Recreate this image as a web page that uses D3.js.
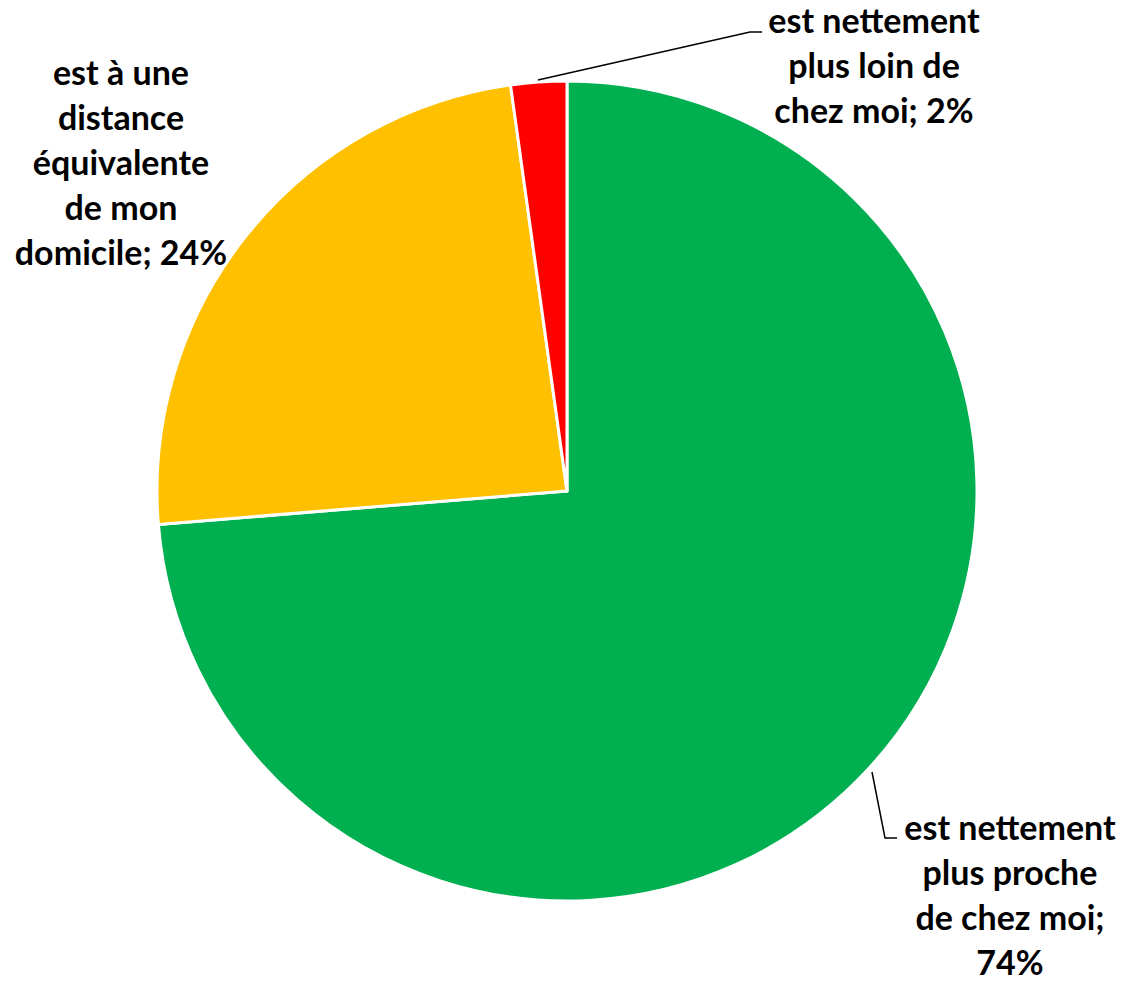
<!DOCTYPE html>
<html>
<head>
<meta charset="utf-8">
<script src="https://cdn.jsdelivr.net/npm/d3@7"></script>
<style>
  body { margin: 0; background: #fff; }
  .lbl { font-family: Lato, "Open Sans", sans-serif; font-weight: 700; font-size: 34px; fill: #000; }
</style>
</head>
<body>
<div id="chart"></div>
<script>
const categories = [
  "est nettement plus proche de chez moi",
  "est à une distance équivalente de mon domicile",
  "est nettement plus loin de chez moi"
];
const values = [73.7, 24.1, 2.2];
const percentLabels = ["74%", "24%", "2%"];
const labelLines = [
  ["est nettement", "plus proche", "de chez moi;", "74%"],
  ["est à une", "distance", "équivalente", "de mon", "domicile; 24%"],
  ["est nettement", "plus loin de", "chez moi; 2%"]
];
const colors = ["#00B050", "#FFC000", "#FF0000"];

const width = 1127, height = 984;
const cx = 567, cy = 491, radius = 410;

const svg = d3.select("#chart").append("svg")
  .attr("width", width)
  .attr("height", height);

const g = svg.append("g").attr("transform", `translate(${cx},${cy})`);

const data = categories.map((c, i) => ({ name: c, value: values[i], pct: percentLabels[i], lines: labelLines[i], color: colors[i] }));

const pie = d3.pie().sort(null).value(d => d.value);
const arc = d3.arc().innerRadius(0).outerRadius(radius);

const arcs = pie(data);

g.selectAll("path")
  .data(arcs)
  .join("path")
  .attr("d", arc)
  .attr("fill", d => d.data.color)
  .attr("stroke", "#fff")
  .attr("stroke-width", 3)
  .attr("stroke-linejoin", "round");

// label placement (page coords of first baseline / centre x)
const labelPos = [
  { x: 1010, y: 840 },
  { x: 121, y: 85 },
  { x: 874, y: 33 }
];
const lineH = 45;

// leader lines: start on the arc edge, elbow, end at the text
const leaders = [
  { from: 0, pts: [[872, 772], [885, 838], [897, 838]] },
  { from: 2, pts: [[538, 80], [750, 32], [762, 32]] }
];

svg.append("g").selectAll("path")
  .data(leaders)
  .join("path")
  .attr("d", d => d3.line()(d.pts))
  .attr("fill", "none")
  .attr("stroke", "#000")
  .attr("stroke-width", 1.5);

const labels = svg.append("g").selectAll("text")
  .data(arcs)
  .join("text")
  .attr("class", "lbl")
  .attr("text-anchor", "middle")
  .attr("x", (d, i) => labelPos[i].x)
  .attr("y", (d, i) => labelPos[i].y);

labels.selectAll("tspan")
  .data((d, i) => d.data.lines.map(l => ({ l, x: labelPos[i].x })))
  .join("tspan")
  .attr("x", d => d.x)
  .attr("dy", (d, i) => i === 0 ? 0 : lineH)
  .text(d => d.l);
</script>
</body>
</html>
